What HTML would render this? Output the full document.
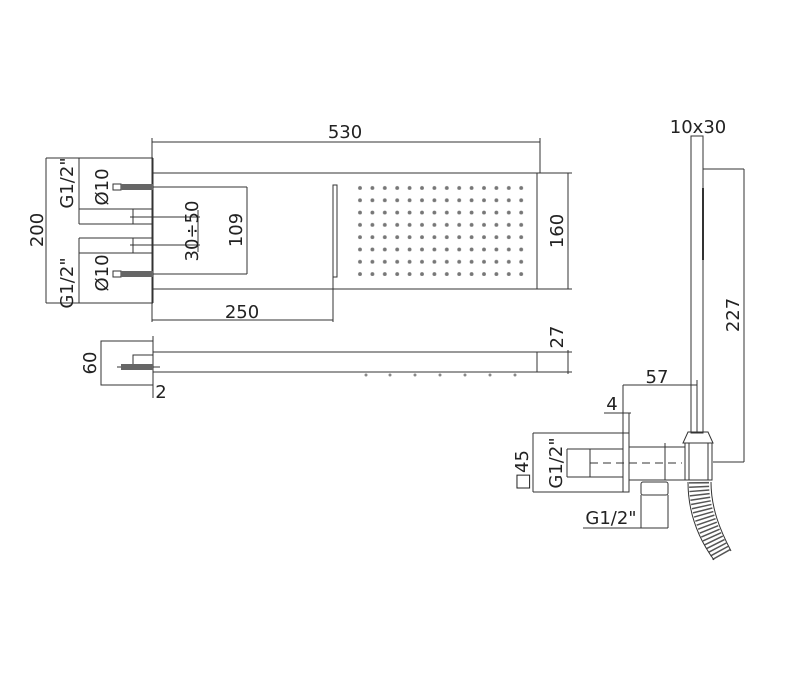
<!DOCTYPE html>
<html><head><meta charset="utf-8"><style>
html,body{margin:0;padding:0;background:#fff;}
svg{display:block;}
text{font-family:"DejaVu Sans","Liberation Sans",sans-serif;font-size:18px;fill:#222;}
</style></head><body>
<svg width="800" height="673" viewBox="0 0 800 673" xmlns="http://www.w3.org/2000/svg">
<defs>
<pattern id="dots" x="354" y="182" width="12.4" height="12.3" patternUnits="userSpaceOnUse">
<circle cx="6" cy="6" r="1.9" fill="#777"/>
</pattern>
</defs>
<g stroke="#333" stroke-width="1" fill="none">
<!-- top view -->
<line x1="152" y1="142" x2="540" y2="142"/>
<line x1="152" y1="138" x2="152" y2="322"/>
<line x1="540" y1="138" x2="540" y2="173"/>
<rect x="152" y="173" width="385" height="116"/>
<line x1="537" y1="173" x2="572" y2="173"/>
<line x1="537" y1="289" x2="572" y2="289"/>
<line x1="568" y1="173" x2="568" y2="289"/>
<rect x="333" y="185" width="4" height="92"/>
<line x1="333" y1="277" x2="333" y2="322"/>
<line x1="152" y1="320" x2="333" y2="320"/>
<line x1="153" y1="158" x2="153" y2="303"/>
<!-- 200 -->
<line x1="46" y1="158" x2="153" y2="158"/>
<line x1="46" y1="303" x2="153" y2="303"/>
<line x1="46" y1="158" x2="46" y2="303"/>
<line x1="79" y1="158" x2="79" y2="224"/>
<line x1="79" y1="238" x2="79" y2="303"/>
<line x1="79" y1="209" x2="153" y2="209"/>
<line x1="79" y1="224" x2="153" y2="224"/>
<line x1="79" y1="238" x2="153" y2="238"/>
<line x1="79" y1="253" x2="153" y2="253"/>
<rect x="133" y="209" width="20" height="15"/>
<rect x="133" y="238" width="20" height="15"/>
<line x1="130" y1="217" x2="200" y2="217"/>
<line x1="130" y1="245" x2="200" y2="245"/>
<line x1="198" y1="210" x2="198" y2="252"/>
<!-- connectors -->
<rect x="113" y="184" width="8" height="6"/>
<rect x="113" y="271" width="8" height="6"/>
<line x1="153" y1="187" x2="247" y2="187"/>
<line x1="153" y1="274" x2="247" y2="274"/>
<line x1="247" y1="187" x2="247" y2="274"/>
<!-- side view -->
<rect x="101" y="341" width="52" height="44"/>
<line x1="153" y1="336" x2="153" y2="398"/>
<line x1="153" y1="352" x2="540" y2="352"/>
<line x1="153" y1="372" x2="540" y2="372"/>
<line x1="537" y1="352" x2="537" y2="372"/>
<line x1="540" y1="352" x2="572" y2="352"/>
<line x1="540" y1="372" x2="572" y2="372"/>
<line x1="568" y1="350" x2="568" y2="374"/>
<polyline points="133,367 133,355 153,355"/>
<line x1="117" y1="367" x2="160" y2="367"/>
<!-- right: rod -->
<rect x="691" y="136" width="12" height="297"/>
<line x1="703" y1="188" x2="703" y2="260" stroke-width="2"/>
<line x1="703" y1="169" x2="744" y2="169"/>
<line x1="744" y1="169" x2="744" y2="462"/>
<line x1="713" y1="462" x2="744" y2="462"/>
<line x1="697" y1="380" x2="697" y2="432"/>
<polygon points="688,432 708,432 713,443 683,443"/>
<rect x="685" y="443" width="27" height="37"/>
<line x1="689" y1="443" x2="689" y2="480"/>
<line x1="708" y1="443" x2="708" y2="480"/>
<!-- pipe -->
<rect x="629" y="447" width="56" height="33"/>
<rect x="623" y="433" width="6" height="59"/>
<line x1="665" y1="443" x2="665" y2="480"/>
<line x1="590" y1="463" x2="682" y2="463" stroke-dasharray="8,5"/>
<line x1="533" y1="433" x2="623" y2="433"/>
<line x1="533" y1="492" x2="623" y2="492"/>
<line x1="533" y1="433" x2="533" y2="492"/>
<line x1="567" y1="449" x2="623" y2="449"/>
<line x1="567" y1="477" x2="623" y2="477"/>
<line x1="567" y1="449" x2="567" y2="477"/>
<line x1="590" y1="449" x2="590" y2="477"/>
<line x1="623" y1="385" x2="697" y2="385"/>
<line x1="623" y1="385" x2="623" y2="433"/>
<line x1="604" y1="413" x2="631" y2="413"/>
<line x1="629" y1="413" x2="629" y2="433"/>
<rect x="641" y="482" width="27" height="13" rx="2"/>
<line x1="644" y1="480" x2="664" y2="480"/>
<line x1="641" y1="495" x2="641" y2="528"/>
<line x1="668" y1="495" x2="668" y2="528"/>
<line x1="583" y1="528" x2="668" y2="528"/>
<!-- hose -->
<path d="M699,482 C699,510 710,535 722,556" stroke="#555" stroke-width="20" stroke-dasharray="1.5,2.5"/>
<path d="M688,482 C688,512 698,538 714,560"/>
<path d="M711,482 C711,508 720,530 731,551"/>
</g>
<rect x="354" y="182" width="174" height="98" fill="url(#dots)"/>
<rect x="121" y="184" width="32" height="6" fill="#666"/>
<rect x="121" y="271" width="32" height="6" fill="#666"/>
<rect x="121" y="364" width="32" height="6" fill="#666"/>
<g fill="#888"><circle cx="366" cy="375" r="1.5"/><circle cx="390" cy="375" r="1.5"/><circle cx="415" cy="375" r="1.5"/><circle cx="440" cy="375" r="1.5"/><circle cx="465" cy="375" r="1.5"/><circle cx="490" cy="375" r="1.5"/><circle cx="515" cy="375" r="1.5"/></g>
<!-- labels -->
<text x="345" y="138" text-anchor="middle">530</text>
<text x="242" y="318" text-anchor="middle">250</text>
<text x="161" y="398" text-anchor="middle">2</text>
<text x="657" y="383" text-anchor="middle">57</text>
<text x="612" y="410" text-anchor="middle">4</text>
<text x="698" y="133" text-anchor="middle">10x30</text>
<text x="611" y="524" text-anchor="middle">G1/2"</text>
<g text-anchor="middle">
<text transform="translate(43,230) rotate(-90)">200</text>
<text transform="translate(73,183) rotate(-90)">G1/2"</text>
<text transform="translate(73,283) rotate(-90)">G1/2"</text>
<text transform="translate(108,187) rotate(-90)">Ø10</text>
<text transform="translate(108,273) rotate(-90)">Ø10</text>
<text transform="translate(198,231) rotate(-90)">30÷50</text>
<text transform="translate(242,230) rotate(-90)">109</text>
<text transform="translate(563,231) rotate(-90)">160</text>
<text transform="translate(563,337) rotate(-90)">27</text>
<text transform="translate(96,363) rotate(-90)">60</text>
<text transform="translate(739,315) rotate(-90)">227</text>
<text transform="translate(528,470) rotate(-90)">□45</text>
<text transform="translate(562,463) rotate(-90)">G1/2"</text>
</g>
</svg>
</body></html>
